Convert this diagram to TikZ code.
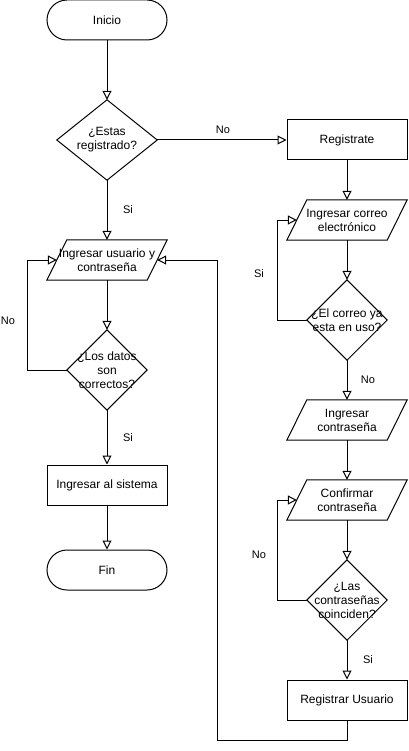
\documentclass[tikz,border=0pt]{standalone}
\usepackage{fontspec}
\setmainfont{Liberation Sans}
\usetikzlibrary{arrows.meta,calc}
\newcommand\drawiobox[1]{\draw[outline] ($(#1.north west)+(20,0)$) -- (#1.north east) -- ($(#1.south east)+(-20,0)$) -- (#1.south west) -- cycle;}
\newcommand\drawdecbox[1]{\draw[outline] (#1.north) -- (#1.east) -- (#1.south) -- (#1.west) -- cycle;}
\begin{document}
\begin{tikzpicture}[x=1pt,y=-1pt,
  every node/.style={font=\fontsize{12}{14}\selectfont, align=center},
  box/.style={draw, line width=1pt, minimum width=120pt, minimum height=40pt, inner sep=0pt},
  term/.style={box, rounded corners=20pt},
  iobox/.style={minimum width=120pt, minimum height=40pt, inner sep=0pt},
  decbig/.style={minimum width=100pt, minimum height=80pt, inner sep=0pt},
  decsmall/.style={minimum width=80pt, minimum height=80pt, inner sep=0pt},
  outline/.style={draw, line width=1pt},
  flow/.style={line width=1pt, -{Triangle[open,length=9pt,width=9pt,fill=white]}},
  lbl/.style={font=\fontsize{11}{13}\selectfont}
]
\useasboundingbox (0,0) rectangle (408,751);

% left column
\node[term] (inicio) at (107,20) {Inicio};
\node[decbig] (est) at (107,140) {¿Estas\\registrado?};
\node[iobox] (p1) at (107,260) {Ingresar usuario y\\contraseña};
\node[decsmall] (datos) at (107,370) {¿Los datos\\son\\correctos?};
\node[box] (sis) at (107,485) {Ingresar al sistema};
\node[term] (fin) at (107,570) {Fin};

% right column
\node[box] (reg) at (347,140) {Registrate};
\node[iobox] (correo) at (347,220) {Ingresar correo\\electrónico};
\node[decsmall] (uso) at (347,320) {¿El correo ya\\esta en uso?};
\node[iobox] (pass) at (347,420) {Ingresar\\contraseña};
\node[iobox] (conf) at (347,500) {Confirmar\\contraseña};
\node[decsmall] (coin) at (347,600) {¿Las\\contraseñas\\coinciden?};
\node[box] (regu) at (347,700) {Registrar Usuario};

\drawdecbox{est}
\drawdecbox{datos}
\drawdecbox{uso}
\drawdecbox{coin}
\drawiobox{p1}
\drawiobox{correo}
\drawiobox{pass}
\drawiobox{conf}

% helper coordinates
\coordinate (p1l) at ($(p1.west)+(10,0)$);
\coordinate (p1r) at ($(p1.east)+(-10,0)$);
\coordinate (correol) at ($(correo.west)+(10,0)$);
\coordinate (confl) at ($(conf.west)+(10,0)$);
\coordinate (noleft) at (27,370);
\coordinate (sileft) at (277,320);
\coordinate (noright) at (277,600);
\coordinate (ret) at (217,740);

% connectors
\draw[flow] (inicio) -- (est.north);
\draw[flow] (est.east) -- (reg.west);
\draw[flow] (est.south) -- (p1.north);
\draw[flow] (p1.south) -- (datos.north);
\draw[flow] (datos.west) -- (noleft) |- (p1l);
\draw[flow] (datos.south) -- (sis.north);
\draw[flow] (sis.south) -- (fin.north);
\draw[flow] (reg.south) -- (correo.north);
\draw[flow] (correo.south) -- (uso.north);
\draw[flow] (uso.west) -- (sileft) |- (correol);
\draw[flow] (uso.south) -- (pass.north);
\draw[flow] (pass.south) -- (conf.north);
\draw[flow] (conf.south) -- (coin.north);
\draw[flow] (coin.west) -- (noright) |- (confl);
\draw[flow] (coin.south) -- (regu.north);
\draw[flow] (regu.south) |- (ret) |- (p1r);

% labels
\node[lbl] (l1) at (223,130) {No};
\node[lbl] (l2) at (128,210) {Si};
\node[lbl] (l3) at (8,321) {No};
\node[lbl] (l4) at (128,438) {Si};
\node[lbl] (l5) at (259,274) {Si};
\node[lbl] (l6) at (368,380) {No};
\node[lbl] (l7) at (259,555) {No};
\node[lbl] (l8) at (368,660) {Si};
\end{tikzpicture}
\end{document}
